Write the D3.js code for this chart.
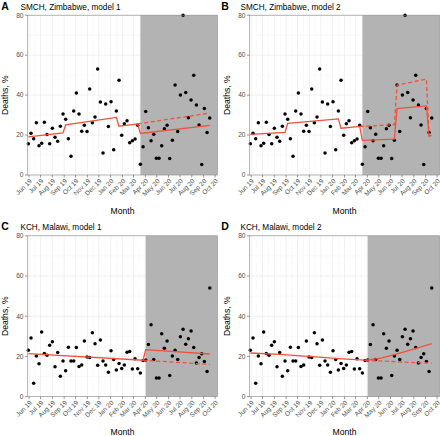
<!DOCTYPE html>
<html><head><meta charset="utf-8">
<script src="https://cdn.jsdelivr.net/npm/d3@7"></script>
<style>
body{margin:0;background:#fff}
svg{display:block}
text{font-family:"Liberation Sans",Arial,Helvetica,sans-serif}
</style>
</head><body>
<svg id="chart" width="440" height="436"></svg>
<script>
// ---------- data ----------
const firstWeek = "2019-05-30";           // date of week 1
const monthTicks = ["2019-06-01","2019-07-01","2019-08-01","2019-09-01","2019-10-01","2019-11-01","2019-12-01",
  "2020-01-01","2020-02-01","2020-03-01","2020-04-01","2020-05-01","2020-06-01","2020-07-01","2020-08-01","2020-09-01","2020-10-01"];
const monthLabels = ["Jun 19","Jul 19","Aug 19","Sep 19","Oct 19","Nov 19","Dec 19","Jan 20","Feb 20","Mar 20",
  "Apr 20","May 20","Jun 20","Jul 20","Aug 20","Sep 20","Oct 20"];
const yTicks = [0,20,40,60,80];
const yMinor = [10,30,50,70];

const zimbabweDeaths = [15.7,20.9,18.2,26.1,14.7,15.9,26.4,20.3,15.6,23.4,18.9,16.9,24.4,30.6,27.9,18.1,9.4,32.0,41.0,30.6,
  21.9,24.9,21.8,43.0,26.1,29.0,53.1,36.5,11.0,35.6,24.3,36.7,12.6,32.1,47.4,19.9,25.6,27.1,16.2,17.2,18.0,24.9,
  5.4,14.2,31.8,23.6,17.2,20.4,8.4,8.4,14.7,23.1,24.9,8.2,17.4,45.0,21.8,40.0,80.0,41.3,28.6,37.5,50.0,35.0,25.0,5.2,33.3,21.3,28.5];
const malawiDeaths = [23.1,29.1,6.6,20.2,16.4,32.2,21.4,20.6,25.6,27.3,14.9,21.9,10.1,17.7,12.9,24.5,17.7,17.7,24.4,15.0,
  15.7,27.7,19.7,19.5,31.8,26.3,15.6,28.2,17.7,15.7,12.1,22.8,18.5,13.2,16.5,14.0,15.7,22.1,22.5,13.7,18.8,13.9,11.8,17.9,
  18.2,25.9,35.8,18.5,9.2,9.3,31.3,24.0,27.7,10.5,20.2,23.0,18.5,29.8,33.5,26.0,28.8,32.6,24.4,16.7,19.4,21.3,17.5,12.5,54.0];
const zimbabweStartWeek = 43;   // first week of the grey (COVID) period
const malawiStartWeek = 45;

// fitted lines: [week, value] vertices
const zimM1Fit = [[1,19.1],[14,21.1],[15,25.1],[34,28.8],[35,24.4],[42,25.6],[43,20.8],[69,24.8]];
const zimM1Cf  = [[42,25.6],[69,31.0]];
const zimM2Fit = [[1,20.3],[14,21.3],[15,25.8],[34,28.1],[35,23.4],[42,24.3],[43,17.3],[55,18.0],[56,33.2],[67,34.6],[68,19.9],[69,19.6]];
const zimM2Cf  = [[42,24.3],[55,25.2],[56,45.0],[67,48.0],[68,19.4],[69,19.0]];
const malM1Fit = [[1,21.4],[44,18.1],[45,23.4],[69,21.2]];
const malM1Cf  = [[44,18.1],[69,16.0]];
const malM2Fit = [[1,21.7],[12,21.0],[24,19.9],[34,18.9],[44,18.1],[45,18.2],[50,19.1],[55,20.9],[60,22.8],[65,24.7],[69,26.4]];
const malM2Cf  = [[44,18.1],[55,17.4],[63,16.9],[69,16.7]];

const panels = [
  {letter:"A", title:"SMCH, Zimbabwe, model 1", deaths:zimbabweDeaths, start:zimbabweStartWeek, fit:zimM1Fit, cf:zimM1Cf, col:0, row:0},
  {letter:"B", title:"SMCH, Zimbabwe, model 2", deaths:zimbabweDeaths, start:zimbabweStartWeek, fit:zimM2Fit, cf:zimM2Cf, col:1, row:0},
  {letter:"C", title:"KCH, Malawi, model 1",    deaths:malawiDeaths,   start:malawiStartWeek,   fit:malM1Fit, cf:malM1Cf, col:0, row:1},
  {letter:"D", title:"KCH, Malawi, model 2",    deaths:malawiDeaths,   start:malawiStartWeek,   fit:malM2Fit, cf:malM2Cf, col:1, row:1}
];

// ---------- layout ----------
const colX = [[27.5,217.5],[249.5,439.5]];
const rowY = [[15.2,175.0],[235.8,396.6]];
const letterX = [1.2,221.2], titleX = [20.5,240.5];
const titleY = [9.6,230.0], monthY = [214.0,434.5];
const RED = "#f2513c";

const DAY = 86400000;
const w0 = new Date(firstWeek + "T00:00:00Z");
const weekDate = i => new Date(w0.getTime() + (i - 1) * 7 * DAY);
const parse = s => new Date(s + "T00:00:00Z");
const tickDates = monthTicks.map(parse);

const svg = d3.select("#chart");

panels.forEach(p => {
  const [x0, x1] = colX[p.col], [y0, y1] = rowY[p.row];
  const x = d3.scaleUtc()
    .domain([new Date(w0.getTime() - 2.2 * DAY), new Date(w0.getTime() + 496.4 * DAY)])
    .range([x0, x1]);
  const y = d3.scaleLinear().domain([0, 80]).range([y1, y0]);
  const g = svg.append("g");

  // minor grid
  const minorX = [];
  for (let i = 0; i < tickDates.length - 1; i++)
    minorX.push(new Date((tickDates[i].getTime() + tickDates[i + 1].getTime()) / 2));
  g.selectAll(".mx").data(minorX).join("line")
    .attr("x1", d => x(d)).attr("x2", d => x(d)).attr("y1", y0).attr("y2", y1)
    .attr("stroke", "#f2f2f2").attr("stroke-width", 0.4);
  g.selectAll(".my").data(yMinor).join("line")
    .attr("x1", x0).attr("x2", x1).attr("y1", d => y(d)).attr("y2", d => y(d))
    .attr("stroke", "#f2f2f2").attr("stroke-width", 0.4);
  // major grid
  g.selectAll(".Mx").data(tickDates).join("line")
    .attr("x1", d => x(d)).attr("x2", d => x(d)).attr("y1", y0).attr("y2", y1)
    .attr("stroke", "#e6e6e6").attr("stroke-width", 0.6);
  g.selectAll(".My").data(yTicks).join("line")
    .attr("x1", x0).attr("x2", x1).attr("y1", d => y(d)).attr("y2", d => y(d))
    .attr("stroke", "#e6e6e6").attr("stroke-width", 0.6);

  // grey period
  const gs = x(weekDate(p.start));
  g.append("rect").attr("x", gs).attr("y", y0).attr("width", x1 - gs).attr("height", y1 - y0)
    .attr("fill", "#b3b3b3");

  // points
  g.selectAll(".pt").data(p.deaths).join("circle")
    .attr("cx", (d, i) => x(weekDate(i + 1))).attr("cy", d => y(d)).attr("r", 1.75)
    .attr("fill", "#000");

  // lines
  const line = d3.line().x(d => x(weekDate(d[0]))).y(d => y(d[1]));
  g.append("path").attr("d", line(p.cf)).attr("fill", "none").attr("stroke", RED)
    .attr("stroke-width", 1.3).attr("stroke-dasharray", "4,2.6");
  g.append("path").attr("d", line(p.fit)).attr("fill", "none").attr("stroke", RED)
    .attr("stroke-width", 1.3);

  // border
  g.append("rect").attr("x", x0).attr("y", y0).attr("width", x1 - x0).attr("height", y1 - y0)
    .attr("fill", "none").attr("stroke", "#8c8c8c").attr("stroke-width", 0.6);

  // y axis
  g.selectAll(".yt").data(yTicks).join("line")
    .attr("x1", x0 - 2.5).attr("x2", x0).attr("y1", d => y(d)).attr("y2", d => y(d))
    .attr("stroke", "#333").attr("stroke-width", 0.5);
  g.selectAll(".yl").data(yTicks).join("text")
    .attr("x", x0 - 4).attr("y", d => y(d)).attr("dy", "0.35em")
    .attr("text-anchor", "end").attr("font-size", 6.6).attr("fill", "#4d4d4d").text(d => d);

  // x axis
  g.selectAll(".xt").data(tickDates).join("line")
    .attr("x1", d => x(d)).attr("x2", d => x(d)).attr("y1", y1).attr("y2", y1 + 2.5)
    .attr("stroke", "#333").attr("stroke-width", 0.5);
  g.selectAll(".xl").data(tickDates).join("text")
    .attr("transform", d => `translate(${x(d)},${y1 + 3.2}) rotate(-45)`)
    .attr("dy", "0.72em").attr("text-anchor", "end")
    .attr("font-size", 6.5).attr("fill", "#4d4d4d").text((d, i) => monthLabels[i]);

  // titles
  g.append("text").attr("x", (x0 + x1) / 2).attr("y", monthY[p.row]).attr("text-anchor", "middle")
    .attr("font-size", 8.6).attr("fill", "#000").text("Month");
  g.append("text").attr("transform", `translate(${p.col * 222 + 8.4},${(y0 + y1) / 2}) rotate(-90)`)
    .attr("text-anchor", "middle").attr("font-size", 8.6).attr("fill", "#000").text("Deaths, %");
  g.append("text").attr("x", titleX[p.col]).attr("y", titleY[p.row])
    .attr("font-size", 8.2).attr("fill", "#000").text(p.title);
  g.append("text").attr("x", letterX[p.col]).attr("y", titleY[p.row] + 0.3)
    .attr("font-size", 10.5).attr("font-weight", "bold").attr("fill", "#000").text(p.letter);
});
</script>
</body></html>
